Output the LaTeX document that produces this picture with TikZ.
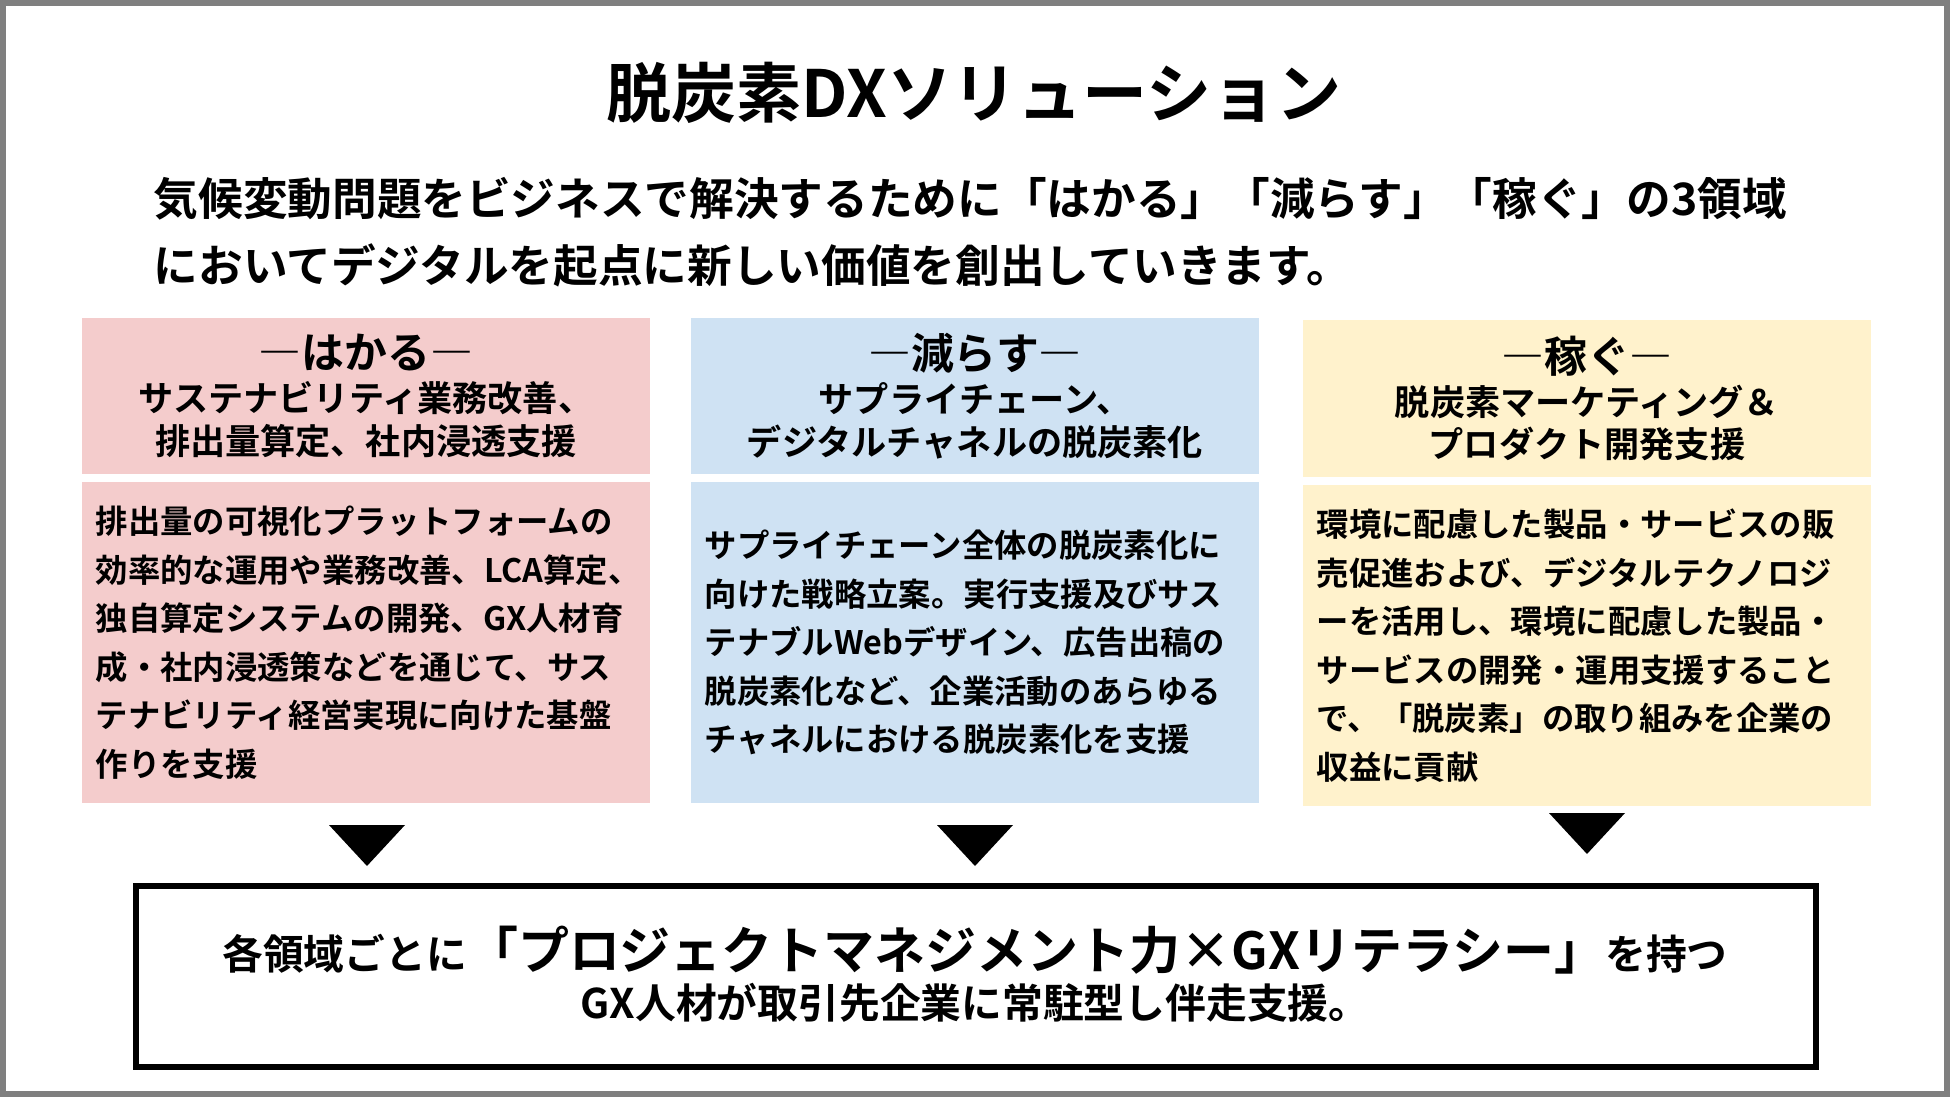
\documentclass[tikz,border=0pt]{standalone}
\usepackage{fontspec}
\setmainfont{Noto Sans CJK JP}[BoldFont={Noto Sans CJK JP Bold}]
\usetikzlibrary{positioning}
\definecolor{hakaru}{HTML}{F4CCCC}
\definecolor{herasu}{HTML}{CFE2F3}
\definecolor{kasegu}{HTML}{FFF2CC}
\definecolor{framegray}{HTML}{7F7F7F}
\newcommand{\fsz}[2]{\fontsize{#1}{#2}\selectfont}
\tikzset{
  every picture/.style={font=\bfseries},
  headbox/.style={minimum width=5.68cm,minimum height=1.56cm,inner sep=0pt,
    align=center,font=\bfseries\fsz{10}{12.2}},
  bodybox/.style={minimum height=3.2cm,text width=5.4cm,inner xsep=0.14cm,
    inner ysep=0pt,align=left,font=\bfseries\fsz{9.2}{13.8}},
  gxbox/.style={draw,line width=0.06cm,minimum width=16.8cm,minimum height=1.81cm},
}
\newcommand{\tag}[1]{{\fsz{12.2}{12.2}―#1―}}

\begin{document}
\begin{tikzpicture}[x=0.01cm,y=-0.01cm]
  \useasboundingbox (0,0) rectangle (1950,1097);
  \draw[framegray,line width=0.06cm] (3,3) rectangle (1947,1094);

  % title and lead
  \node (title) at (974,93) {\fsz{18.5}{18.5}脱炭素DXソリューション};
  \node[anchor=west,align=left,inner sep=0pt,font=\bfseries\fsz{12.7}{19.1}] (lead) at (153,232.5)
    {気候変動問題をビジネスで解決するために「はかる」「減らす」「稼ぐ」の3領域\\
     においてデジタルを起点に新しい価値を創出していきます。};

  % three fields
  \node[headbox,fill=hakaru] (hakaruHead) at (366,396)
    {\tag{はかる}\\サステナビリティ業務改善、\\排出量算定、社内浸透支援};
  \node[headbox,fill=herasu] (herasuHead) at (975,396)
    {\tag{減らす}\\サプライチェーン、\\デジタルチャネルの脱炭素化};
  \node[headbox,fill=kasegu] (kaseguHead) at (1587,398.5)
    {\tag{稼ぐ}\\脱炭素マーケティング＆\\プロダクト開発支援};

  \node[bodybox,fill=hakaru,below=0.07cm of hakaruHead] (hakaruBody)
    {排出量の可視化プラットフォームの\\
     効率的な運用や業務改善、LCA算定、\\
     独自算定システムの開発、GX人材育\\
     成・社内浸透策などを通じて、サス\\
     テナビリティ経営実現に向けた基盤\\
     作りを支援};
  \node[bodybox,fill=herasu,below=0.07cm of herasuHead] (herasuBody)
    {サプライチェーン全体の脱炭素化に\\
     向けた戦略立案。実行支援及びサス\\
     テナブルWebデザイン、広告出稿の\\
     脱炭素化など、企業活動のあらゆる\\
     チャネルにおける脱炭素化を支援};
  \node[bodybox,fill=kasegu,below=0.075cm of kaseguHead] (kaseguBody)
    {環境に配慮した製品・サービスの販\\
     売促進および、デジタルテクノロジ\\
     ーを活用し、環境に配慮した製品・\\
     サービスの開発・運用支援すること\\
     で、「脱炭素」の取り組みを企業の\\
     収益に貢献};

  \foreach \cx/\ty in {367/825,975/825,1587/813}
    \fill (\cx-38,\ty) -- (\cx+38,\ty) -- (\cx,\ty+41) -- cycle;

  % GX talent
  \node[gxbox] (gxBox) at (976,976.5) {};
  \node[align=center,font=\bfseries\fsz{11.6}{13.8}] (gxText) at (975,974)
    {各領域ごとに{\fsz{14.5}{14.5}「プロジェクトマネジメント力×GXリテラシー」}を持つ\\
     GX人材が取引先企業に常駐型し伴走支援。};
\end{tikzpicture}
\end{document}
